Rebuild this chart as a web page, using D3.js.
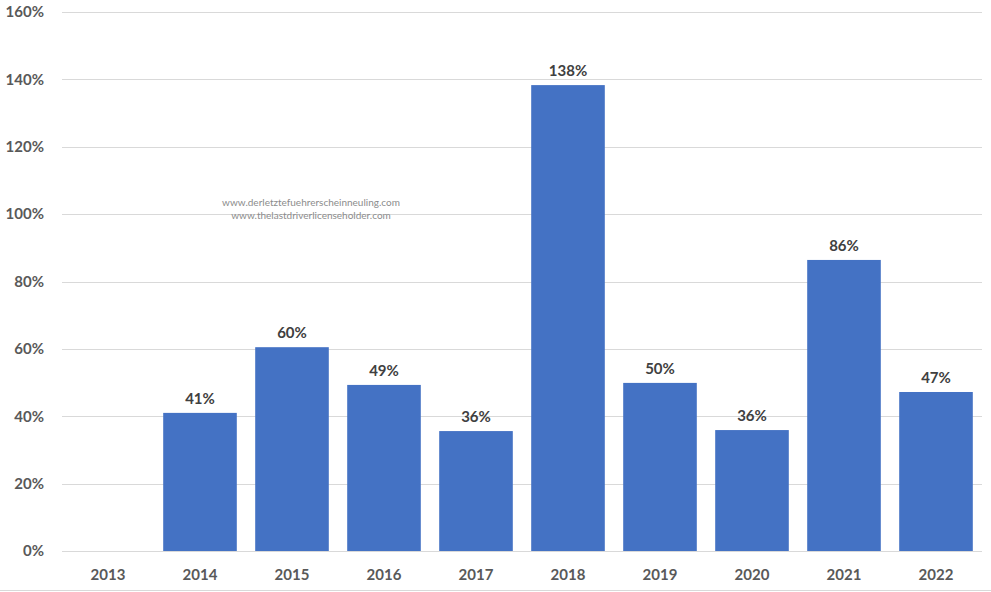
<!DOCTYPE html>
<meta charset="utf-8">
<style>
    body { margin: 0; background: #fff; }
    svg { display: block; }
</style>

<script src="https://d3js.org/d3.v7.min.js"></script>

<svg id="chart" width="991" height="592"></svg>

<script>

// Data
var years = ['2013', '2014', '2015', '2016', '2017', '2018', '2019', '2020', '2021', '2022'];
var growth = [null, 41, 60.5, 49.3, 35.6, 138.3, 49.9, 35.9, 86.4, 47.2];
var labels = ['', '41%', '60%', '49%', '36%', '138%', '50%', '36%', '86%', '47%'];
var yTicks = [0, 20, 40, 60, 80, 100, 120, 140, 160];

var svg = d3.select('svg#chart');
var font = 'Lato, "Liberation Sans", sans-serif';

// (window.top is read-only, so use other names for the plot box)
var plotLeft = 62, plotRight = 982, plotTop = 12, plotBottom = 551;

var x = d3.scaleBand()
    .domain(years)
    .range([plotLeft, plotRight])
    .paddingInner(0.2)
    .paddingOuter(0.1);

var y = d3.scaleLinear()
    .domain([0, 160])
    .range([plotBottom, plotTop]);

// gridlines
svg.append('g')
    .selectAll('line')
    .data(yTicks)
    .enter().append('line')
    .attr('x1', plotLeft)
    .attr('x2', plotRight)
    .attr('y1', function(d) { return Math.round(y(d)) + 0.5; })
    .attr('y2', function(d) { return Math.round(y(d)) + 0.5; })
    .attr('stroke', '#d9d9d9')
    .attr('stroke-width', 1);

// y axis labels
svg.append('g')
    .selectAll('text')
    .data(yTicks)
    .enter().append('text')
    .attr('x', 44)
    .attr('y', function(d) { return y(d); })
    .attr('dy', '0.35em')
    .attr('text-anchor', 'end')
    .attr('font-family', font)
    .attr('font-weight', 'bold')
    .attr('font-size', '15px')
    .attr('fill', '#595959')
    .text(function(d) { return d + '%'; });

// watermark
svg.append('text')
    .attr('x', 311).attr('y', 206)
    .attr('text-anchor', 'middle')
    .attr('font-family', font)
    .attr('font-size', '10px')
    .attr('fill', '#8c8c8c')
    .text('www.derletztefuehrerscheinneuling.com');
svg.append('text')
    .attr('x', 311).attr('y', 219)
    .attr('text-anchor', 'middle')
    .attr('font-family', font)
    .attr('font-size', '10px')
    .attr('fill', '#8c8c8c')
    .text('www.thelastdriverlicenseholder.com');

// bars
var data = years.map(function(yr, i) { return { year: yr, value: growth[i], label: labels[i] }; });

svg.append('g')
    .selectAll('rect')
    .data(data.filter(function(d) { return d.value; }))
    .enter().append('rect')
    .attr('x', function(d) { return x(d.year); })
    .attr('width', x.bandwidth())
    .attr('y', function(d) { return y(d.value); })
    .attr('height', function(d) { return y(0) - y(d.value); })
    .attr('fill', '#4472c4');

// value labels
svg.append('g')
    .selectAll('text')
    .data(data.filter(function(d) { return d.value; }))
    .enter().append('text')
    .attr('x', function(d) { return x(d.year) + x.bandwidth() / 2; })
    .attr('y', function(d) { return y(d.value) - 9; })
    .attr('text-anchor', 'middle')
    .attr('font-family', font)
    .attr('font-weight', 'bold')
    .attr('font-size', '15px')
    .attr('fill', '#404040')
    .text(function(d) { return d.label; });

// x axis labels
svg.append('g')
    .selectAll('text')
    .data(years)
    .enter().append('text')
    .attr('x', function(d) { return x(d) + x.bandwidth() / 2; })
    .attr('y', 580)
    .attr('text-anchor', 'middle')
    .attr('font-family', font)
    .attr('font-weight', 'bold')
    .attr('font-size', '15px')
    .attr('fill', '#595959')
    .text(function(d) { return d; });

// bottom border
svg.append('line')
    .attr('x1', 0).attr('x2', 991)
    .attr('y1', 590.5).attr('y2', 590.5)
    .attr('stroke', '#d9d9d9');

</script>
